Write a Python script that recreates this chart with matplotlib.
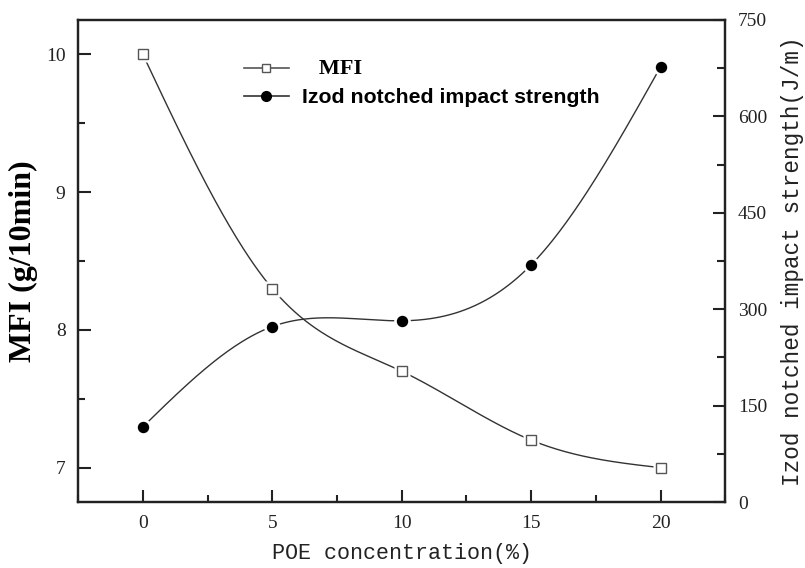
import numpy as np
import matplotlib
matplotlib.use('Agg')
import matplotlib.pyplot as plt
from matplotlib.lines import Line2D
from matplotlib.ticker import MultipleLocator

# POE content and measured properties
poe = [0, 5, 10, 15, 20]
mfi = [10.0, 8.3, 7.7, 7.2, 7.0]
izod = [117, 273, 282, 369, 677]


def natural_spline(x, y, n=300):
    # natural cubic spline through the measured points, for the smooth curve
    x = np.asarray(x, float)
    y = np.asarray(y, float)
    k = len(x)
    h = np.diff(x)
    A = np.zeros((k, k))
    b = np.zeros(k)
    A[0, 0] = A[-1, -1] = 1
    for i in range(1, k - 1):
        A[i, i - 1] = h[i - 1]
        A[i, i] = 2 * (h[i - 1] + h[i])
        A[i, i + 1] = h[i]
        b[i] = 6 * ((y[i + 1] - y[i]) / h[i] - (y[i] - y[i - 1]) / h[i - 1])
    m = np.linalg.solve(A, b)
    xs = np.linspace(x[0], x[-1], n)
    idx = np.clip(np.searchsorted(x, xs) - 1, 0, k - 2)
    x0, x1 = x[idx], x[idx + 1]
    hh = x1 - x0
    t0, t1 = x1 - xs, xs - x0
    ys = (m[idx] * t0 ** 3 + m[idx + 1] * t1 ** 3) / (6 * hh) \
        + (y[idx] / hh - m[idx] * hh / 6) * t0 \
        + (y[idx + 1] / hh - m[idx + 1] * hh / 6) * t1
    return xs, ys


fig = plt.figure(figsize=(8.05, 5.68), dpi=100)
ax = fig.add_axes([0.097, 0.116, 0.804, 0.849])
ax2 = ax.twinx()

line_col = '#333333'
xs, ys = natural_spline(poe, mfi)
ax.plot(xs, ys, color=line_col, lw=1.0, zorder=2)
ax.plot(poe, mfi, 's', ms=11, mfc='white', mec='none', zorder=3)
ax.plot(poe, mfi, 's', ms=6.8, mfc='white', mec='#555555', mew=1.0, zorder=4)

xs, ys = natural_spline(poe, izod)
ax2.plot(xs, ys, color=line_col, lw=1.0, zorder=2)
ax2.plot(poe, izod, 'o', ms=12, mfc='white', mec='none', zorder=3)
ax2.plot(poe, izod, 'o', ms=7.2, mfc='black', mec='black', zorder=4)

ax.set_xlim(-2.5, 22.5)
ax.set_ylim(6.75, 10.25)
ax2.set_ylim(0, 750)

ax.set_xticks(poe)
ax.xaxis.set_minor_locator(MultipleLocator(2.5))
ax.set_yticks([7, 8, 9, 10])
ax.yaxis.set_minor_locator(MultipleLocator(0.5))
ax2.set_yticks([0, 150, 300, 450, 600, 750])
ax2.yaxis.set_minor_locator(MultipleLocator(75))

for a in (ax, ax2):
    for s in a.spines.values():
        s.set_linewidth(1.6)
        s.set_color('#222222')
ax.tick_params(axis='both', which='major', direction='in', length=9, width=1.5,
               color='#222222', pad=9, top=False, right=False)
ax.tick_params(axis='both', which='minor', direction='in', length=5, width=1.5,
               color='#222222', top=False, right=False)
ax2.tick_params(axis='y', which='major', direction='in', length=9, width=1.5,
                color='#222222', pad=9)
ax2.tick_params(axis='y', which='minor', direction='in', length=6, width=1.5,
                color='#222222')
for lab in ax.get_xticklabels() + ax.get_yticklabels() + ax2.get_yticklabels():
    lab.set_fontfamily('Liberation Serif')
    lab.set_fontsize(14)
    lab.set_color('#222222')

ax.set_xlabel('POE concentration(%)', family='Liberation Mono', size=15.6,
              color='#222222', labelpad=8)
ax.set_ylabel('MFI (g/10min)', family='Liberation Serif', weight='bold',
              size=23, labelpad=6)
ax2.set_ylabel('Izod notched impact strength(J/m)', family='Liberation Mono',
               size=16.3, color='#222222', labelpad=10)

handles = [
    Line2D([], [], color='#555555', lw=1.2, marker='s', ms=6, mfc='white',
           mec='#555555'),
    Line2D([], [], color='#333333', lw=1.2, marker='o', ms=7, mfc='black',
           mec='black'),
]
leg = ax.legend(handles, ['   MFI', 'Izod notched impact strength'],
                loc='upper left', bbox_to_anchor=(0.257, 0.918), frameon=False,
                fontsize=14, handlelength=2.27, handletextpad=0.7,
                labelspacing=0.45, borderaxespad=0, borderpad=0)
t0, t1 = leg.get_texts()
t0.set_fontfamily('Liberation Serif')
t0.set_fontweight('bold')
t0.set_fontsize(16)
t1.set_fontfamily('Liberation Sans')
t1.set_fontweight('bold')
t1.set_fontsize(15.3)

fig.savefig('out.png', dpi=100)
